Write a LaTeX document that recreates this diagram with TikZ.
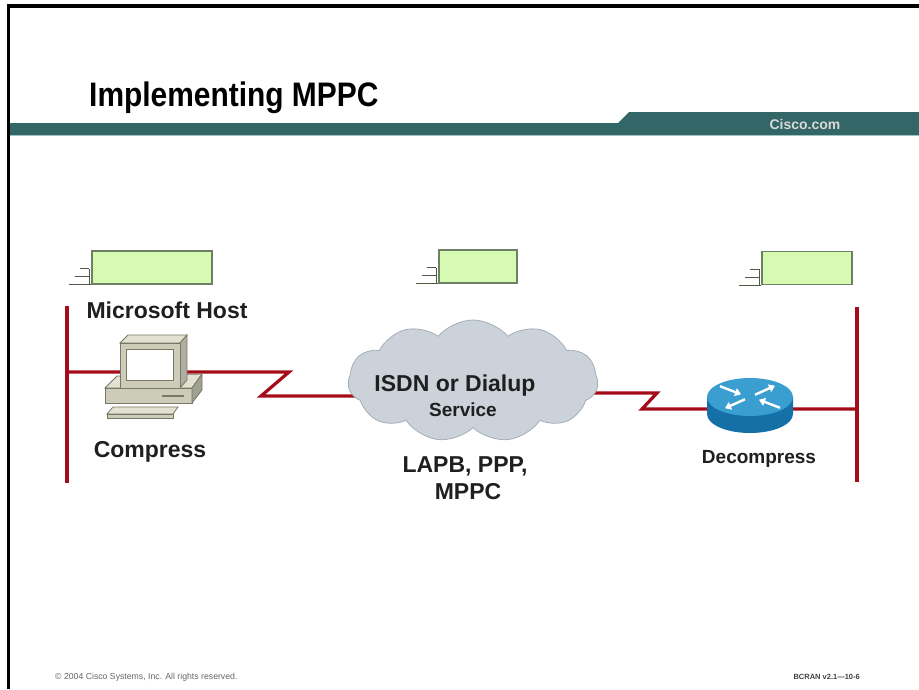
\documentclass[tikz,border=0pt]{standalone}
\usepackage{fontspec}
\setmainfont{Liberation Sans}
\newfontfamily\titlefont[FakeStretch=0.88]{Liberation Sans}
\usetikzlibrary{shapes.symbols,backgrounds,calc,arrows.meta}

\definecolor{ciscoteal}{RGB}{51,102,102}
\definecolor{tealedge}{RGB}{160,195,195}
\definecolor{linkred}{RGB}{165,12,25}
\definecolor{tagfill}{RGB}{214,250,178}
\definecolor{tagedge}{RGB}{110,128,100}
\definecolor{cloudfill}{RGB}{203,210,217}
\definecolor{cloudedge}{RGB}{165,174,182}
\definecolor{rtrtop}{RGB}{58,158,208}
\definecolor{rtrside}{RGB}{22,112,168}
\definecolor{pcbody}{RGB}{204,204,184}
\definecolor{pclight}{RGB}{226,226,210}
\definecolor{pcdark}{RGB}{120,120,100}

\tikzset{
  link/.style={draw=linkred, line width=3.2pt},
  lan/.style={draw=linkred, line width=4pt},
  tagbox/.style={draw=tagedge, fill=tagfill, line width=1.3pt,
    minimum width=#1, minimum height=33pt, inner sep=0pt},
  stub/.style={draw=tagedge!70!black, line width=1.3pt},
  lbl/.style={anchor=base, font=\fontsize{23}{27}\selectfont\bfseries,
    text=black!88, inner sep=0pt},
  rtrarrow/.style={draw=white, line width=2.4pt, -{Triangle[length=6pt,width=8pt]}},
}

\begin{document}
\begin{tikzpicture}[x=1pt,y=-1pt]
\useasboundingbox (0,0) rectangle (919,689);

% slide frame and title bar
\fill[black] (7,4) rectangle (919,8);
\fill[black] (7,4) rectangle (10,689);
\fill[ciscoteal] (10,123) -- (618,123) -- (629,112) -- (919,112)
  -- (919,135) -- (10,135) -- cycle;
\draw[tealedge, line width=1pt] (10,135.5) -- (919,135.5);
\node[anchor=base west, font=\titlefont\fontsize{34}{40}\selectfont\bfseries, inner sep=0pt]
  (title) at (89,106) {Implementing MPPC};
\node[font=\fontsize{14}{16}\selectfont\bfseries, text=black!15, inner sep=0pt]
  (site) at (805,124) {Cisco.com};

% protocol stack tags
\node[tagbox=120pt] (tagL) at (152,267.5) {};
\node[tagbox=78pt] (tagM) at (478,266.5) {};
\node[tagbox=90pt] (tagR) at (807,268) {};
\foreach \t in {tagL,tagM,tagR} {
  \draw[stub] ($(\t.south west)+(-2,0)$) -- ++(0,-16);
  \draw[stub] ($(\t.south west)+(-2,-16)$) -- ++(-9,0);
  \draw[stub] ($(\t.south west)+(-2,-8)$) -- ++(-14,0);
  \draw[stub] (\t.south west) -- ++(-22,0);
}

% WAN cloud
\node[cloud, cloud puffs=11, cloud puff arc=100, aspect=2.1, fill=cloudfill,
  draw=cloudedge, line width=0.8pt, minimum width=250pt, minimum height=122pt,
  inner sep=0pt] (isdn) at (473,381) {};
\node[lbl] (isdnlbl) at (455,391) {ISDN or Dialup};
\node[lbl, font=\fontsize{19}{22}\selectfont\bfseries] (svclbl) at (463,416) {Service};
\node[lbl] (protolbl) at (465,472) {LAPB, PPP,};
\node[lbl] (mppclbl) at (468,499) {MPPC};

% LAN segments and serial links
\coordinate (busLtop) at (67,306);  \coordinate (busLbot) at (67,483);
\coordinate (busRtop) at (857,307); \coordinate (busRbot) at (857,482);
\coordinate (pc) at (152,372);      \coordinate (rtr) at (750,409);
\coordinate (zA) at (289,372); \coordinate (zB) at (261,396);
\coordinate (zC) at (657,393); \coordinate (zD) at (642,409);
\begin{scope}[on background layer]
\draw[lan] (busLtop) -- (busLbot);
\draw[lan] (busRtop) -- (busRbot);
\draw[link] (busLtop |- pc) -- (pc) -- (zA) -- (zB) -- (isdn.center |- zB);
\draw[link] (isdn.center |- zC) -- (zC) -- (zD) -- (rtr) -- (busRtop |- rtr);
\end{scope}

% host PC
\fill[pclight, draw=pcdark, line width=0.8pt] (105,388) -- (117,376) -- (202,374) -- (192,388) -- cycle;
\fill[pcbody, draw=pcdark, line width=0.8pt] (105,388) rectangle (192,403);
\fill[pcdark!70, draw=pcdark, line width=0.8pt] (192,388) -- (202,374) -- (202,390) -- (192,403) -- cycle;
\draw[pcdark, line width=1.2pt] (162,396) -- (184,396);
\fill[pclight, draw=pcdark, line width=0.8pt] (120,343) -- (128,335) -- (187,335) -- (180,343) -- cycle;
\fill[pcdark!60, draw=pcdark, line width=0.8pt] (180,343) -- (187,335) -- (187,380) -- (180,388) -- cycle;
\fill[pcbody, draw=pcdark, line width=0.8pt] (120,343) rectangle (180,388);
\fill[white, draw=pcdark, line width=0.8pt] (126,349) rectangle (173,380);
\fill[pclight, draw=pcdark, line width=0.8pt] (107,414) -- (113,407) -- (178,407) -- (173,414) -- cycle;
\fill[pcbody, draw=pcdark, line width=0.8pt] (107,414) rectangle (173,418);
\node[lbl] (hostlbl) at (167,318) {Microsoft Host};
\node[lbl] (cmplbl) at (150,457) {Compress};

% router
\fill[rtrside] (707,397) -- (707,414) arc[start angle=180, end angle=0, x radius=43, y radius=19]
  -- (793,397) -- cycle;
\fill[rtrtop] (750,397) ellipse[x radius=43, y radius=19];
\begin{scope}[shift={(750,397)}, yscale=0.45]
\draw[rtrarrow] (5,-5) -- (25,-25);
\draw[rtrarrow] (-5,5) -- (-25,25);
\draw[rtrarrow] (-30,-24) -- (-9,-6);
\draw[rtrarrow] (30,24) -- (9,6);
\end{scope}
\node[lbl, font=\fontsize{19}{22}\selectfont\bfseries] (dcmplbl) at (759,463) {Decompress};

% footer
\node[anchor=base west, font=\fontsize{8.7}{10}\selectfont, text=black!60, inner sep=0pt]
  (copy) at (55,679) {© 2004 Cisco Systems, Inc. All rights reserved.};
\node[anchor=base east, font=\fontsize{7.5}{9}\selectfont\bfseries, text=black!75, inner sep=0pt]
  (course) at (860,679) {BCRAN v2.1—10-6};
\end{tikzpicture}
\end{document}
